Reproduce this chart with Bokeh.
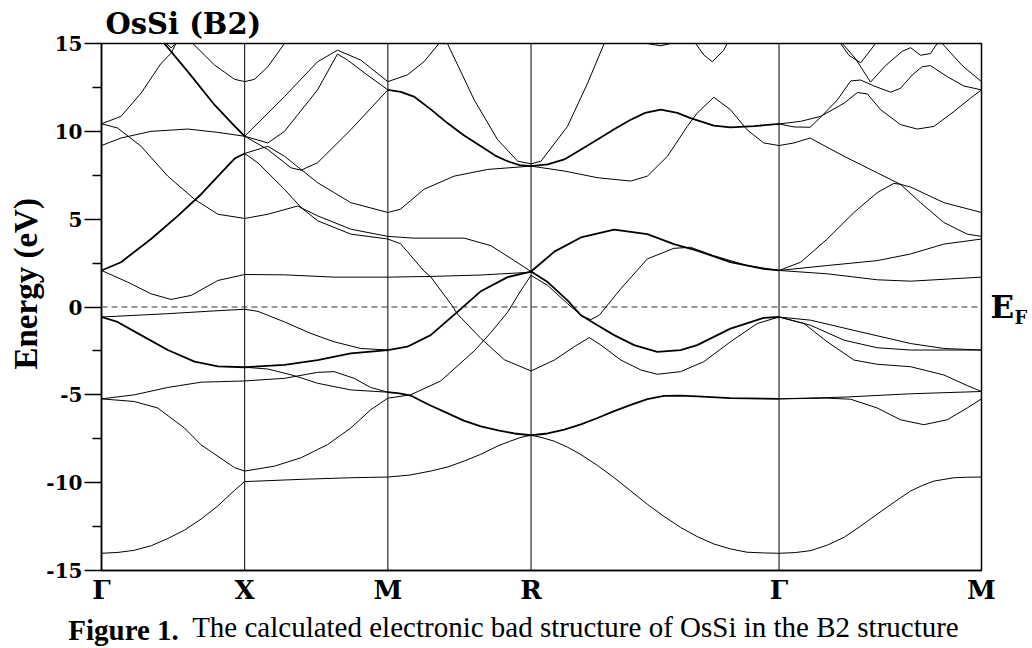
from bokeh.plotting import figure
from bokeh.models import Range1d, FixedTicker, Span, Title, LinearAxis
from bokeh.embed import file_html
from bokeh.resources import INLINE

# ---------------- data ----------------
K_LABELS = ["Γ", "X", "M", "R", "Γ", "M"]
K_NODES = [0.0, 0.5, 1.0, 1.5, 2.366, 3.073]

Y_TICKS = [-15, -10, -5, 0, 5, 10, 15]
Y_MINOR = [-12.5, -7.5, -2.5, 2.5, 7.5, 12.5]

TITLE = "OsSi (B2)"
Y_LABEL = "Energy (eV)"
FERMI_LABEL = ("E", "F")
CAPTION_BOLD = "Figure 1."
CAPTION_TEXT = "The calculated electronic bad structure of OsSi in the B2 structure"

# each band piece: (fraction along segment, energy in eV)
GAMMA_X = [
    ([0, 0.115, 0.229, 0.35, 0.463, 0.58, 0.696, 0.813, 0.93, 1.0],
     [-14.02, -13.97, -13.85, -13.58, -13.18, -12.7, -12.07, -11.32, -10.43, -9.94]),
    ([0, 0.229, 0.393, 0.579, 0.696, 0.813, 0.93, 1.0], [-5.23, -5.38, -5.75, -6.89, -7.85, -8.5, -9.15, -9.34]),
    ([0, 0.229, 0.463, 0.696, 1.0], [-5.23, -5.0, -4.58, -4.28, -4.21]),
    ([0, 0.112, 0.276, 0.463, 0.650, 0.813, 1.0], [-0.57, -0.85, -1.6, -2.45, -3.11, -3.38, -3.43]),
    ([0, 0.463, 0.813, 1.0], [-0.57, -0.38, -0.21, -0.13]),
    ([0, 0.182, 0.346, 0.486, 0.626, 0.813, 1.0], [2.08, 1.42, 0.75, 0.43, 0.66, 1.51, 1.85]),
    ([0, 0.136, 0.346, 0.533, 0.696, 0.883, 0.93, 1.0], [2.08, 2.55, 3.87, 5.19, 6.42, 8.05, 8.45, 8.74]),
    ([0, 0.112, 0.276, 0.463, 0.650, 0.813, 1.0], [10.43, 10.19, 9.15, 7.45, 6.13, 5.28, 5.04]),
    ([0, 0.136, 0.346, 0.603, 0.813, 1.0], [9.19, 9.62, 10.0, 10.13, 9.94, 9.72]),
    ([0, 0.136, 0.276, 0.416, 0.463, 0.486, 0.52], [10.43, 10.85, 12.17, 13.87, 14.25, 14.45, 15.0]),
    ([0.453, 0.486, 0.519], [15.0, 14.75, 15.0]),
    ([0.439, 0.603, 0.790, 0.930, 1.0], [15.0, 13.4, 11.5, 10.3, 9.72]),
    ([0.638, 0.790, 0.930, 1.0], [15.0, 13.77, 12.96, 12.83]),
]

X_M = [
    ([0, 0.394, 0.741, 1.0], [-9.94, -9.81, -9.72, -9.68]),
    ([0, 0.208, 0.394, 0.579, 0.741, 0.880, 1.0], [-9.34, -9.06, -8.58, -7.83, -6.89, -5.85, -5.19]),
    ([0, 0.278, 0.509, 0.625, 0.764, 0.880, 1.0], [-4.21, -4.06, -3.72, -3.68, -4.06, -4.58, -4.85]),
    ([0, 0.162, 0.347, 0.509, 0.741, 1.0], [-3.43, -3.53, -3.91, -4.34, -4.72, -4.85]),
    ([0, 0.278, 0.509, 0.741, 1.0], [-3.43, -3.3, -3.02, -2.64, -2.45]),
    ([0, 0.093, 0.278, 0.463, 0.625, 0.810, 1.0], [-0.13, -0.25, -0.85, -1.51, -1.98, -2.36, -2.45]),
    ([0, 0.278, 0.625, 1.0], [1.85, 1.83, 1.70, 1.70]),
    ([0, 0.162, 0.370, 0.509, 0.741, 1.0], [5.04, 5.28, 5.75, 5.19, 4.43, 4.02]),
    ([0, 0.093, 0.278, 0.394, 0.509, 0.741, 1.0], [8.74, 8.2, 6.7, 5.66, 4.91, 4.15, 3.87]),
    ([0, 0.162, 0.278, 0.509, 0.741, 1.0], [8.74, 9.15, 8.58, 7.08, 5.94, 5.38]),
    ([0, 0.162, 0.324, 0.394, 0.509, 0.741, 1.0], [9.72, 8.96, 7.92, 7.79, 8.21, 10.09, 12.36]),
    ([0, 0.162, 0.278, 0.509, 0.648, 0.718, 0.856, 1.0], [9.72, 9.34, 10.0, 12.36, 14.4, 14.06, 13.21, 12.36]),
    ([0, 0.278, 0.509, 0.648, 0.810, 1.0], [9.72, 11.98, 13.96, 14.62, 14.06, 12.83]),
    ([0, 0.069, 0.162, 0.278], [12.83, 12.96, 13.68, 15.0]),
]

M_R = [
    ([0, 0.136, 0.252, 0.357], [12.83, 13.21, 13.96, 15.0]),
    ([0, 0.09, 0.182, 0.30, 0.416, 0.53, 0.650, 0.75, 0.836, 0.92, 1.0],
     [12.36, 12.25, 11.98, 11.25, 10.47, 9.78, 9.15, 8.62, 8.3, 8.08, 8.02]),
    ([0.416, 0.603, 0.766, 0.907, 1.0], [15.0, 11.79, 9.53, 8.3, 8.15]),
    ([0, 0.089, 0.252, 0.463, 0.696, 1.0], [5.38, 5.57, 6.70, 7.45, 7.83, 8.02]),
    ([0, 0.182, 0.533, 0.720, 0.883, 1.0], [4.02, 3.92, 3.92, 3.49, 2.64, 2.02]),
    ([0, 0.089, 0.252, 0.299, 0.451, 0.486, 0.650, 0.813, 1.0], [3.87, 3.6, 2.05, 1.72, 0.05, -0.4, -1.79, -3.0, -3.64]),
    ([0, 0.3, 0.65, 1.0], [1.70, 1.74, 1.82, 1.98]),
    ([0, 0.136, 0.299, 0.486, 0.650, 0.836, 1.0], [-2.45, -2.26, -1.6, -0.28, 0.9, 1.7, 2.02]),
    ([0, 0.159, 0.369, 0.603, 0.720, 0.836, 0.930, 1.0], [-5.19, -5.0, -4.21, -2.5, -1.45, -0.3, 0.95, 1.8]),
    ([0, 0.08, 0.159, 0.29, 0.416, 0.53, 0.650, 0.77, 0.883, 1.0],
     [-4.85, -4.92, -5.04, -5.58, -6.04, -6.47, -6.79, -7.02, -7.2, -7.3]),
    ([0, 0.15, 0.299, 0.42, 0.533, 0.65, 0.766, 0.85, 0.930, 1.0],
     [-9.68, -9.57, -9.34, -9.1, -8.77, -8.38, -7.92, -7.65, -7.42, -7.3]),
]

R_GAMMA = [
    ([0, 0.040, 0.147, 0.228, 0.295], [8.15, 8.3, 10.28, 12.74, 15.0]),
    ([0, 0.067, 0.134, 0.20, 0.268, 0.335, 0.402, 0.46, 0.523, 0.59, 0.643, 0.737, 0.804, 0.90, 1.0],
     [8.02, 8.12, 8.4, 8.95, 9.53, 10.12, 10.66, 11.05, 11.23, 11.05, 10.75, 10.32, 10.23, 10.3, 10.42]),
    ([0, 0.134, 0.268, 0.402, 0.469, 0.550, 0.630, 0.670, 0.737, 0.804, 0.871, 0.938, 1.0],
     [8.02, 7.74, 7.36, 7.17, 7.45, 8.58, 10.28, 11.04, 11.94, 11.23, 10.09, 9.34, 9.19]),
    ([0.664, 0.697, 0.731, 0.777, 0.791], [15.0, 14.34, 13.96, 14.62, 15.0]),
    ([0.469, 0.523, 0.563], [15.0, 14.87, 15.0]),
    ([0, 0.094, 0.201, 0.335, 0.469, 0.576, 0.670, 0.804, 0.938, 1.0], [2.02, 3.15, 3.96, 4.4, 4.15, 3.58, 3.21, 2.55, 2.17, 2.08]),
    ([0, 0.067, 0.147, 0.201, 0.241, 0.275, 0.362, 0.469, 0.576, 0.643, 0.737, 0.871, 1.0],
     [1.8, 1.23, 0.19, -0.47, -0.72, -0.47, 1.04, 2.74, 3.34, 3.4, 2.92, 2.36, 2.08]),
    ([0, 0.067, 0.147, 0.201, 0.268, 0.335, 0.416, 0.509, 0.603, 0.670, 0.804, 0.938, 1.0],
     [2.02, 1.42, 0.38, -0.47, -1.04, -1.6, -2.17, -2.55, -2.45, -2.17, -1.23, -0.62, -0.57]),
    ([0, 0.094, 0.174, 0.235, 0.282, 0.362, 0.442, 0.509, 0.603, 0.697, 0.804, 0.912, 1.0],
     [-3.64, -3.02, -2.26, -1.74, -2.17, -3.02, -3.58, -3.83, -3.68, -3.11, -1.98, -0.94, -0.57]),
    ([0, 0.067, 0.134, 0.201, 0.268, 0.335, 0.402, 0.469, 0.536, 0.603, 0.670, 0.804, 1.0],
     [-7.3, -7.2, -6.98, -6.68, -6.32, -5.93, -5.57, -5.25, -5.06, -5.04, -5.09, -5.19, -5.23]),
    ([0, 0.040, 0.094, 0.147, 0.201, 0.268, 0.335, 0.402, 0.469, 0.536, 0.603, 0.670, 0.737, 0.804, 0.871, 0.938, 1.0],
     [-7.3, -7.42, -7.64, -7.98, -8.4, -9.02, -9.72, -10.47, -11.23, -11.92, -12.55, -13.07, -13.49, -13.77, -13.96, -14.0, -14.02]),
]

GAMMA_M = [
    ([0, 0.08, 0.156, 0.24, 0.321, 0.40, 0.485, 0.57, 0.650, 0.71, 0.765, 0.864, 0.93, 1.0],
     [-14.02, -13.98, -13.87, -13.55, -13.11, -12.5, -11.79, -11.1, -10.47, -10.15, -9.91, -9.72, -9.69, -9.68]),
    ([0, 0.321, 0.650, 1.0], [-5.23, -5.13, -4.94, -4.81]),
    ([0, 0.238, 0.354, 0.485, 0.600, 0.715, 0.831, 0.929, 1.0], [-5.23, -5.19, -5.25, -5.75, -6.42, -6.7, -6.42, -5.75, -5.23]),
    ([0, 0.156, 0.403, 0.650, 0.814, 1.0], [-0.57, -0.75, -1.42, -2.08, -2.36, -2.45]),
    ([0, 0.156, 0.321, 0.485, 0.650, 1.0], [-0.57, -1.04, -1.89, -2.32, -2.45, -2.45]),
    ([0, 0.123, 0.238, 0.370, 0.485, 0.650, 0.814, 0.929, 1.0], [-0.57, -0.94, -1.98, -3.02, -3.26, -3.4, -3.87, -4.47, -4.81]),
    ([0, 0.238, 0.485, 0.650, 1.0], [2.08, 1.89, 1.55, 1.47, 1.70]),
    ([0, 0.238, 0.485, 0.650, 0.814, 1.0], [2.08, 2.36, 2.64, 3.02, 3.58, 3.87]),
    ([0, 0.107, 0.238, 0.370, 0.485, 0.567, 0.600, 0.699, 0.814, 0.929, 1.0],
     [2.08, 2.55, 3.87, 5.38, 6.51, 7.04, 6.98, 5.94, 4.81, 4.15, 4.02]),
    ([0, 0.074, 0.153, 0.321, 0.485, 0.600, 0.650, 0.814, 1.0], [9.19, 9.34, 9.62, 8.58, 7.64, 6.98, 6.83, 5.94, 5.38]),
    ([0, 0.074, 0.153, 0.206, 0.288, 0.354, 0.403, 0.469, 0.551, 0.600, 0.658, 0.707, 0.748, 0.831, 0.913, 1.0],
     [10.42, 10.25, 10.23, 10.81, 11.79, 12.87, 12.92, 12.58, 12.23, 12.45, 13.21, 13.68, 13.74, 13.11, 12.58, 12.36]),
    ([0, 0.107, 0.206, 0.321, 0.387, 0.436, 0.502, 0.600, 0.683, 0.765, 0.864, 0.946, 1.0],
     [10.42, 10.57, 10.85, 11.6, 12.21, 12.13, 11.23, 10.38, 10.13, 10.28, 11.13, 11.89, 12.36]),
    ([0.313, 0.378, 0.452, 0.526, 0.609, 0.650, 0.699, 0.748, 0.781], [15.0, 14.13, 12.8, 13.74, 14.56, 14.76, 14.33, 14.43, 15.0]),
    ([0.304, 0.345, 0.403, 0.477], [15.0, 14.33, 13.9, 15.0]),
    ([0.806, 0.905, 1.0], [15.0, 13.74, 12.83]),
]

SEGMENTS = [GAMMA_X, X_M, M_R, R_GAMMA, GAMMA_M]
# pieces that are (nearly) doubly degenerate and look heavier in the figure
DEGENERATE = {0: [3, 6, 11], 1: [4], 2: [1, 7, 9], 3: [1, 5, 7, 9], 4: []}

# ---------------- figure ----------------
p = figure(width=1032, height=648, output_backend="svg", toolbar_location=None, tools="",
           x_range=Range1d(K_NODES[0], K_NODES[-1]), y_range=Range1d(-15, 15),
           min_border_left=101, min_border_right=51, min_border_top=43, min_border_bottom=75)
p.background_fill_color = "white"
p.border_fill_color = "white"
p.outline_line_color = "black"
p.outline_line_width = 1.5
p.xgrid.visible = False
p.ygrid.visible = False

for s, bands in enumerate(SEGMENTS):
    k0, k1 = K_NODES[s], K_NODES[s + 1]
    for i, (fr, en) in enumerate(bands):
        ks = [k0 + f * (k1 - k0) for f in fr]
        w = 1.8 if i in DEGENERATE[s] else 1.0
        p.line(ks, en, line_color="black", line_width=w)

for k in K_NODES[1:-1]:
    p.add_layout(Span(location=k, dimension="height", line_color="black", line_width=1))
p.add_layout(Span(location=0, dimension="width", line_color="#333333", line_width=1, line_dash="6 4"))

# title
p.title.text = TITLE
p.title.align = "left"
p.title.offset = 4
p.title.standoff = 6
p.title.text_font = "DejaVu Serif"
p.title.text_font_style = "bold"
p.title.text_font_size = "29px"
p.title.text_color = "black"

# y axis
ya = p.yaxis[0]
ya.ticker = FixedTicker(ticks=Y_TICKS, minor_ticks=Y_MINOR)
ya.major_label_overrides = {v: str(v) for v in Y_TICKS}
ya.major_tick_out = 17
ya.major_tick_in = 0
ya.minor_tick_out = 9
ya.minor_tick_in = 0
ya.major_tick_line_width = 1.5
ya.minor_tick_line_width = 1.5
ya.axis_line_width = 1.5
ya.major_label_standoff = 2
ya.major_label_text_font = "DejaVu Serif"
ya.major_label_text_font_style = "bold"
ya.major_label_text_font_size = "20px"
ya.major_label_text_color = "black"

p.add_layout(Title(text=Y_LABEL, align="left", offset=201, standoff=0,
                   text_font="Liberation Serif", text_font_style="bold",
                   text_font_size="33px", text_color="black"), "left")

# x axis
xa = p.xaxis[0]
xa.ticker = FixedTicker(ticks=K_NODES)
xa.major_label_overrides = {k: lab for k, lab in zip(K_NODES, K_LABELS)}
xa.major_tick_out = 0
xa.major_tick_in = 0
xa.minor_tick_out = 0
xa.axis_line_width = 1.5
xa.major_label_standoff = 4
xa.major_label_text_font = "DejaVu Serif"
xa.major_label_text_font_style = "bold"
xa.major_label_text_font_size = "26px"
xa.major_label_text_color = "black"


def text_axis(tick, text, size, style, font, standoff):
    ax = LinearAxis(ticker=FixedTicker(ticks=[tick]), major_label_overrides={tick: text})
    ax.axis_line_color = None
    ax.major_tick_line_color = None
    ax.minor_tick_line_color = None
    ax.major_tick_out = 0
    ax.major_tick_in = 0
    ax.minor_tick_out = 0
    ax.minor_tick_in = 0
    ax.major_label_standoff = standoff
    ax.major_label_text_font = font
    ax.major_label_text_font_style = style
    ax.major_label_text_font_size = size
    ax.major_label_text_color = "black"
    return ax


# Fermi level label on the right: "E" with subscript "F"
p.add_layout(text_axis(0, FERMI_LABEL[0], "31px", "bold", "DejaVu Serif", 9), "right")
p.add_layout(text_axis(-0.6, FERMI_LABEL[1], "18px", "bold", "DejaVu Serif", -3), "right")

# caption below the axis: regular part, then the bold lead-in pulled onto the same line
p.add_layout(text_axis(1.655, CAPTION_TEXT, "29px", "normal", "Liberation Serif", 3), "below")
p.add_layout(text_axis(0.077, CAPTION_BOLD, "29px", "bold", "Liberation Serif", -32), "below")

open("out.html", "w").write(file_html(p, INLINE))
